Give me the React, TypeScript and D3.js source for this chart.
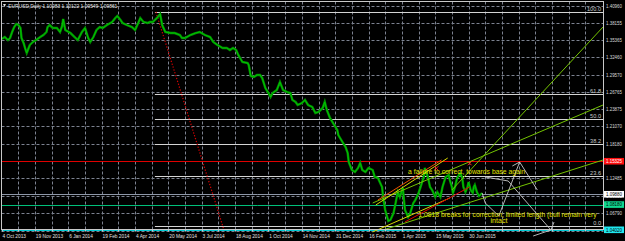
import React, { useEffect } from 'react';
import * as d3 from 'd3';

const W = 625;
const H = 241;

// ---------- data ----------
const headerText = 'EURUSD,Daily  1.10083 1.10122 1.09549 1.09861';

const dateLabels = [
  '4 Oct 2013', '19 Nov 2013', '6 Jan 2014', '19 Feb 2014', '4 Apr 2014',
  '20 May 2014', '3 Jul 2014', '18 Aug 2014', '1 Oct 2014', '14 Nov 2014',
  '31 Dec 2014', '16 Feb 2015', '1 Apr 2015', '15 May 2015', '30 Jun 2015',
];
const barsPerLabel = 32;
const barsPerGrid = 16;
const lastBar = 577;

const priceTicks = [
  1.4096, 1.38155, 1.35365, 1.3246, 1.2957, 1.26765, 1.23875, 1.2107,
  1.1818, 1.1533, 1.12485, 1.0963, 1.0679, 1.039,
];

// [trading-day index from 4 Oct 2013, close]
const closeSeries: [number, number][] = [
  [0, 1.3548], [3, 1.3581], [6, 1.3532], [8, 1.3565], [10, 1.3664], [12, 1.3746], [14, 1.3796],
  [16, 1.3779], [18, 1.373], [19, 1.3565], [21, 1.3483], [23, 1.3367], [24, 1.3318], [27, 1.345],
  [30, 1.3499], [33, 1.3532], [37, 1.3581], [40, 1.3614], [43, 1.3664], [44, 1.3746], [46, 1.3779],
  [49, 1.373], [53, 1.373], [56, 1.3664], [58, 1.3763], [59, 1.3878], [61, 1.3697], [66, 1.3647],
  [70, 1.3581], [73, 1.3532], [77, 1.3664], [80, 1.373], [83, 1.3565], [85, 1.3499], [88, 1.3581],
  [91, 1.3697], [94, 1.3746], [97, 1.373], [101, 1.3779], [106, 1.3829], [109, 1.3895], [111, 1.3928],
  [114, 1.3862], [116, 1.3812], [120, 1.3779], [125, 1.3746], [128, 1.3697], [131, 1.3812], [133, 1.3895],
  [136, 1.3829], [140, 1.3812], [142, 1.3829], [145, 1.3829], [149, 1.3895], [152, 1.3961], [154, 1.3779],
  [157, 1.3664], [162, 1.3647], [166, 1.3647], [171, 1.3614], [173, 1.3565], [176, 1.3565], [181, 1.3614],
  [186, 1.3647], [190, 1.3664], [195, 1.3614], [200, 1.3581], [203, 1.3499], [207, 1.345], [212, 1.34],
  [216, 1.34], [219, 1.3367], [222, 1.34], [225, 1.3367], [227, 1.3285], [231, 1.3169], [236, 1.3153],
  [237, 1.312], [239, 1.2938], [242, 1.2922], [245, 1.2955], [248, 1.2955], [250, 1.2905], [253, 1.274],
  [256, 1.2658], [258, 1.2592], [260, 1.2658], [264, 1.2707], [267, 1.2839], [270, 1.2707], [274, 1.2674],
  [277, 1.2658], [279, 1.2543], [282, 1.251], [284, 1.246], [288, 1.2493], [291, 1.2543], [294, 1.246],
  [298, 1.2427], [301, 1.2328], [304, 1.2345], [308, 1.2411], [310, 1.251], [312, 1.2378], [315, 1.2246],
  [318, 1.2163], [322, 1.2048], [323, 1.1965], [327, 1.185], [330, 1.1767], [332, 1.1669], [333, 1.152],
  [336, 1.1388], [339, 1.1355], [342, 1.1421], [344, 1.1504], [346, 1.1388], [349, 1.1355], [352, 1.1421],
  [356, 1.1388], [358, 1.1273], [361, 1.1256], [365, 1.1108], [366, 1.0943], [368, 1.0729], [371, 1.0547],
  [373, 1.0564], [376, 1.0679], [378, 1.0844], [380, 1.1025], [382, 1.0943], [385, 1.1091], [386, 1.0893],
  [387, 1.0729], [390, 1.0613], [392, 1.0679], [395, 1.0844], [397, 1.0893], [400, 1.1009], [402, 1.1108],
  [404, 1.1223], [405, 1.1273], [406, 1.1421], [409, 1.1273], [411, 1.1108], [413, 1.1058], [416, 1.0943],
  [418, 1.1025], [421, 1.0943], [423, 1.1108], [426, 1.1273], [429, 1.1306], [430, 1.1223], [432, 1.1108],
  [433, 1.1009], [435, 1.1108], [437, 1.1256], [440, 1.1339], [442, 1.1256], [443, 1.1108], [445, 1.1025],
  [447, 1.1108], [448, 1.119], [450, 1.1058], [452, 1.1009], [453, 1.1108], [454, 1.1141], [456, 1.1025],
  [458, 1.0959], [461, 1.1009],
];

// Fibonacci retracement
const fibHigh = 1.3993;
const fibLow = 1.0462;
const fibStartBar = 147;
const fibLevels = [100, 61.8, 50, 38.2, 23.6, 0];

// horizontal price lines: red, bid, green, cyan
const levelPrices = [1.15325, 1.0988, 1.0818, 1.0402];
const levelLabels = ['1.15325', '1.09880', '1.08180', '1.04020'];

// trend lines: [bar, price] -> [bar, price]
const orangeLines: [number, number][][] = [
  [[361, 1.0893], [422, 1.1553]],
];
const redLines: [number, number][][] = [
  [[387, 1.0531], [449, 1.1108]],
];
const yellowLines: [number, number][][] = [
  [[359, 1.0811], [428, 1.1586]],
  [[356, 1.0366], [430, 1.0926]],
];
const greenLines: [number, number][][] = [
  [[356, 1.0844], [577, 1.246]],
  [[432, 1.1058], [577, 1.3746]],
  [[366, 1.0399], [577, 1.1553]],
];
const redDotLine: [number, number][] = [[148, 1.3993], [213, 1.0415]];
const crossMarks: [number, number][] = [[417, 1.1416], [449, 1.1499]];

// projected zig-zag (white)
const whitePaths: [number, number][][] = [
  [[461, 1.1009], [464, 1.0844], [477, 1.063], [497, 1.152], [514, 1.1058]],
  [[464, 1.1273], [486, 1.1207], [527, 1.0399]],
  [[490, 1.1454], [497, 1.152]],
  [[510, 1.03], [527, 1.0399], [530, 1.053]],
];

const notes: { text: string; at: [number, number]; width: number }[] = [
  { text: 'a failure to correct, towards base again', at: [390, 1.1314], width: 117 },
  { text: '1.0818 breaks for correction; limited length (bull remain very', at: [400, 1.0613], width: 178 },
  { text: 'intact', at: [469, 1.0522], width: 17 },
];

// ---------- styles ----------
const FONT = 'Liberation Sans, Arial, sans-serif';
const levelStyles = [
  { line: '#e00000', box: '#ff1010', text: '#ffffff', w: 1 },
  { line: '#8e97a8', box: '#ffffff', text: '#000000', w: 1 },
  { line: '#00c07a', box: '#10d890', text: '#000000', w: 1 },
  { line: '#00c8d2', box: '#20e8f0', text: '#000000', w: 2 },
];

export default function App() {
  useEffect(() => {
    document.body.style.margin = '0';
  }, []);

  const x = d3.scaleLinear().domain([0, lastBar]).range([1.7, 603]);
  const y = d3.scaleLinear().domain([1.41916, 1.02173]).range([0, 241]);
  const line = d3
    .line<[number, number]>()
    .x((d) => x(d[0]))
    .y((d) => y(d[1]));

  const plotL = 1.5;
  const plotT = 1.5;
  const plotR = 603.5;
  const plotB = 229.5;

  const gridBars = d3.range(barsPerGrid, lastBar - 4, barsPerGrid);
  const fmt = d3.format('.5f');
  const crisp = (v: number) => Math.round(v) + 0.5;

  return (
    <svg
      width={W}
      height={H}
      style={{ position: 'absolute', left: 0, top: 0, display: 'block', background: '#000' }}
    >
      <rect x={0} y={0} width={W} height={H} fill="#000" />

      {/* grid */}
      <g stroke="#7c8290" strokeWidth={1} strokeDasharray="3,2">
        {gridBars.map((b) => (
          <line key={'vg' + b} x1={crisp(x(b))} x2={crisp(x(b))} y1={plotT} y2={plotB} />
        ))}
        {priceTicks.map((p) => (
          <line key={'hg' + p} x1={plotL} x2={plotR} y1={crisp(y(p))} y2={crisp(y(p))} />
        ))}
      </g>

      {/* fib lines */}
      {fibLevels.map((lv) => {
        const p = fibLow + ((fibHigh - fibLow) * lv) / 100;
        const yy = crisp(y(p));
        return (
          <g key={'fib' + lv}>
            <line x1={x(fibStartBar)} x2={plotR} y1={yy} y2={yy} stroke="#d4d4d4" strokeWidth={1} />
            <text
              x={601}
              y={yy - 1.5}
              fontSize={5.6}
              fontFamily={FONT}
              fill="#c8c8c8"
              textAnchor="end"
            >
              {lv.toFixed(1)}
            </text>
          </g>
        );
      })}

      {/* horizontal level lines */}
      {levelPrices.map((p, i) => (
        <line
          key={'lvl' + i}
          x1={plotL}
          x2={plotR}
          y1={levelStyles[i].w === 2 ? Math.round(y(p)) : crisp(y(p))}
          y2={levelStyles[i].w === 2 ? Math.round(y(p)) : crisp(y(p))}
          stroke={levelStyles[i].line}
          strokeWidth={levelStyles[i].w}
        />
      ))}

      {/* red dotted line */}
      <path d={line(redDotLine) || ''} stroke="#d40000" strokeWidth={1.2} strokeDasharray="1.3,1.7" fill="none" />

      {/* price series */}
      <path d={line(closeSeries) || ''} stroke="#008c00" strokeWidth={2.4} fill="none" strokeLinejoin="miter" />
      <path d={line(closeSeries) || ''} stroke="#00c400" strokeWidth={1} fill="none" strokeLinejoin="miter" />

      {/* trend lines */}
      {greenLines.map((l, i) => (
        <path key={'gl' + i} d={line(l) || ''} stroke="#74c400" strokeWidth={1} fill="none" />
      ))}
      {yellowLines.map((l, i) => (
        <path key={'yl' + i} d={line(l) || ''} stroke="#d8d800" strokeWidth={1} fill="none" />
      ))}
      {orangeLines.map((l, i) => (
        <path key={'ol' + i} d={line(l) || ''} stroke="#f05000" strokeWidth={1} fill="none" />
      ))}
      {redLines.map((l, i) => (
        <path key={'rl' + i} d={line(l) || ''} stroke="#e00000" strokeWidth={1} fill="none" />
      ))}
      {crossMarks.map((c, i) => {
        const cx = x(c[0]);
        const cy = y(c[1]);
        return (
          <g key={'cm' + i} stroke="#ff2020" strokeWidth={1}>
            <line x1={cx - 2} x2={cx + 2} y1={cy - 2} y2={cy + 2} />
            <line x1={cx - 2} x2={cx + 2} y1={cy + 2} y2={cy - 2} />
          </g>
        );
      })}

      {/* white projections */}
      {whitePaths.map((l, i) => (
        <path key={'wp' + i} d={line(l) || ''} stroke="#c8c8c8" strokeWidth={0.9} fill="none" />
      ))}

      {/* notes */}
      {notes.map((n, i) => (
        <text
          key={'nt' + i}
          x={x(n.at[0])}
          y={y(n.at[1])}
          fontSize={6.6}
          fontFamily={FONT}
          fill="#e4e400"
          textLength={n.width}
          lengthAdjust="spacingAndGlyphs"
        >
          {n.text}
        </text>
      ))}

      {/* frame */}
      <rect x={plotL} y={plotT} width={plotR - plotL} height={plotB - plotT} fill="none" stroke="#c8c8c8" strokeWidth={1} />

      {/* price axis labels */}
      {priceTicks.map((p) => (
        <text
          key={'pl' + p}
          x={606}
          y={y(p) + 1.8}
          fontSize={4.6}
          fontFamily={FONT}
          fill="#d8d8d8"
          textLength={16}
          lengthAdjust="spacingAndGlyphs"
        >
          {fmt(p)}
        </text>
      ))}
      {levelPrices.map((p, i) => (
        <g key={'lb' + i}>
          <rect x={604} y={y(p) - 3.3} width={20} height={6.6} fill={levelStyles[i].box} />
          <text
            x={606}
            y={y(p) + 1.8}
            fontSize={4.6}
            fontFamily={FONT}
            fill={levelStyles[i].text}
            textLength={16}
            lengthAdjust="spacingAndGlyphs"
          >
            {levelLabels[i]}
          </text>
        </g>
      ))}

      {/* time axis */}
      {gridBars.concat([0]).map((b) => (
        <line key={'tk' + b} x1={crisp(x(b))} x2={crisp(x(b))} y1={plotB} y2={plotB + 2} stroke="#c8c8c8" />
      ))}
      {dateLabels.map((d, i) => (
        <text key={'dl' + i} x={x(i * barsPerLabel) + 0.8} y={237.5} fontSize={4.8} fontFamily={FONT} fill="#e0e0e0">
          {d}
        </text>
      ))}

      {/* header */}
      <path d="M3,4 L6,4 L4.5,7 Z" fill="#e0e0e0" />
      <text x={8.3} y={7.6} fontSize={4.9} fontFamily={FONT} fill="#e8e8e8">
        {headerText}
      </text>
    </svg>
  );
}
